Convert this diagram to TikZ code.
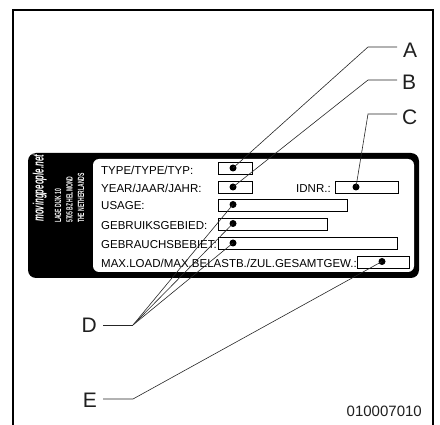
\documentclass[tikz,border=0pt]{standalone}
\usepackage{fontspec}
\setmainfont{Liberation Sans}
\begin{document}
\begin{tikzpicture}[x=1pt,y=-1pt,
  lbl/.style={font=\fontsize{21}{21}\selectfont, inner sep=0pt, text=black!88},
  fld/.style={font=\fontsize{11.5}{12}\selectfont, inner sep=0pt, anchor=base west},
  fieldbox/.style={draw, line width=0.8pt, minimum height=12pt, inner sep=0pt, anchor=north west},
  dot/.style={circle, fill=black, inner sep=0pt, minimum size=7pt},
  leader/.style={line width=0.6pt, draw=black!85},
  rot/.style={rotate=90, anchor=base west, inner sep=0pt, text=white},
  addr/.style={rot, font=\fontsize{9}{9}\selectfont\bfseries}]
\useasboundingbox (0,0) rectangle (440,425);
% outer frame
\draw[line width=1.5pt] (13,425) -- (13,10) -- (433,10) -- (433,425);
% plate
\fill[black, rounded corners=8pt] (28,153) rectangle (419,278);
\fill[white, rounded corners=6pt] (93,159) rectangle (414,272);
% rotated address text
\node[rot, font=\fontsize{15}{15}\selectfont\bfseries\itshape] (brand) at (43.5,222)
  {\scalebox{0.52}[1]{movingpeople.net\raisebox{1.1ex}{\fontsize{4.5}{4.5}\selectfont\normalfont ®}}};
\node[addr] (addr1) at (61,223) {\scalebox{0.56}[1]{LAGE DIJK 10}};
\node[addr] (addr2) at (72.5,223) {\scalebox{0.56}[1]{5705 BZ HELMOND}};
\node[addr] (addr3) at (84,223) {\scalebox{0.56}[1]{THE NETHERLANDS}};
% field texts
\node[fld] (ttype) at (101,175) {TYPE/TYPE/TYP:};
\node[fld] (tyear) at (101,192.3) {YEAR/JAAR/JAHR:};
\node[fld] (tidnr) at (296,192.3) {IDNR.:};
\node[fld] (tusage) at (101,210) {USAGE:};
\node[fld] (tgebr) at (101,230) {GEBRUIKSGEBIED:};
\node[fld] (tgebra) at (101,249) {GEBRAUCHSBEBIET:};
\node[fld] (tmax) at (101,267.3) {MAX.LOAD/MAX.BELASTB./ZUL.GESAMTGEW.:};
% field boxes
\node[fieldbox, minimum width=34pt] (btype) at (218,162) {};
\node[fieldbox, minimum width=34pt] (byear) at (218,181) {};
\node[fieldbox, minimum width=63pt] (bidnr) at (335,181) {};
\node[fieldbox, minimum width=129pt] (busage) at (218,199) {};
\node[fieldbox, minimum width=109pt] (bgebr) at (218,218) {};
\node[fieldbox, minimum width=179pt] (bgebra) at (218,237) {};
\node[fieldbox, minimum width=52pt] (bmax) at (357,256) {};
% dots
\node[dot] (dtype) at (233,168) {};
\node[dot] (dyear) at (233,187) {};
\node[dot] (didnr) at (356,187) {};
\node[dot] (dusage) at (233,204.5) {};
\node[dot] (dgebr) at (233,223.5) {};
\node[dot] (dgebra) at (233,243) {};
\node[dot] (dmax) at (382,261.5) {};
% labels
\node[lbl, anchor=west] (A) at (403,50.7) {A};
\node[lbl, anchor=west] (B) at (402,82.4) {B};
\node[lbl, anchor=west] (C) at (402,117) {C};
\node[lbl, anchor=east] (D) at (97,325) {D};
\node[lbl, anchor=east] (E) at (97,400) {E};
% elbows
\coordinate (ea) at (368,47);
\coordinate (eb) at (368,80);
\coordinate (ec) at (368,114);
\coordinate (ed) at (133,325);
\coordinate (ee) at (133,399);
% leaders
\draw[leader] ([xshift=-6pt,yshift=3.7pt]A.west) -- (ea) -- (dtype.center);
\draw[leader] ([xshift=-5pt,yshift=2.4pt]B.west) -- (eb) -- (dyear.center);
\draw[leader] ([xshift=-5pt,yshift=3pt]C.west) -- (ec) -- (didnr.center);
\draw[leader] ([xshift=6pt]D.east) -- (ed);
\draw[leader] (ed) -- (dusage.center);
\draw[leader] (ed) -- (dgebr.center);
\draw[leader] (ed) -- (dgebra.center);
\draw[leader] ([xshift=6pt,yshift=1pt]E.east) -- (ee) -- (dmax.center);
% code
\node[font=\fontsize{15}{15}\selectfont, inner sep=0pt, anchor=base east, text=black!88] (code) at (422,417) {010007010};
\end{tikzpicture}
\end{document}
